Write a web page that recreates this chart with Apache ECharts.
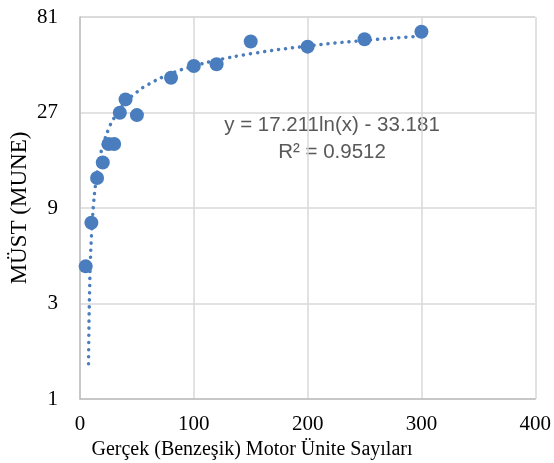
<!DOCTYPE html>
<html>
<head>
<meta charset="utf-8">
<script src="https://cdn.jsdelivr.net/npm/echarts@6/dist/echarts.min.js"></script>
<style>html,body{margin:0;padding:0;background:#fff;}#c{width:554px;height:463px;}</style>
</head>
<body>
<div id="c"></div>
<script>
var xVals = [5, 10, 15, 20, 25, 30, 35, 40, 50, 80, 100, 120, 150, 200, 250, 300];
var yVals = [4.6, 7.6, 12.7, 15.2, 18.8, 18.8, 26.9, 31.4, 26.2, 40.3, 46.1, 47.0, 61.1, 57.6, 62.7, 68.4];
var trendX = [7.5, 7.75, 8, 8.5, 9, 10, 11, 12, 13.5, 15, 17.5, 20, 25, 30, 40, 50, 60, 80, 100, 120, 150, 200, 250, 300];
var trendY = [1.50, 2.06, 2.61, 3.65, 4.64, 6.45, 8.09, 9.59, 11.62, 13.43, 16.08, 18.38, 22.22, 25.36, 30.31, 34.15, 37.29, 42.24, 46.08, 49.22, 53.06, 58.01, 61.85, 64.99];
var yTicks = [1, 3, 9, 27, 81];
var xTicks = [0, 100, 200, 300, 400];
var eqLine1 = 'y = 17.211ln(x) - 33.181';
var eqLine2 = 'R² = 0.9512';
var xName = 'Gerçek (Benzeşik) Motor Ünite Sayıları';
var yName = 'MÜST (MUNE)';

var color = '#4a7dbd';
var serif = '"Liberation Serif", "Times New Roman", serif';
var chart = echarts.init(document.getElementById('c'), null, {renderer: 'canvas'});
chart.setOption({
  animation: false,
  backgroundColor: '#ffffff',
  grid: {left: 80, right: 18, top: 17, bottom: 64},
  xAxis: {
    type: 'value', min: xTicks[0], max: xTicks[xTicks.length - 1], interval: 100,
    axisLine: {show: true, lineStyle: {color: '#bfbfbf', width: 1.5}},
    axisTick: {show: false},
    splitLine: {show: true, lineStyle: {color: '#d9d9d9', width: 1.5}},
    axisLabel: {fontFamily: serif, fontSize: 21, color: '#000', margin: 15}
  },
  yAxis: {
    type: 'log', logBase: 3, min: yTicks[0], max: yTicks[yTicks.length - 1],
    axisLine: {show: true, lineStyle: {color: '#bfbfbf', width: 1.5}},
    axisTick: {show: false},
    splitLine: {show: true, lineStyle: {color: '#d9d9d9', width: 1.5}},
    axisLabel: {fontFamily: serif, fontSize: 21, color: '#000', margin: 22,
      formatter: function (v) { return String(Math.round(v)); }}
  },
  series: [
    {
      type: 'line',
      data: trendX.map(function (x, i) { return [x, trendY[i]]; }),
      showSymbol: false, symbol: 'none', smooth: true,
      lineStyle: {color: color, width: 3.5, type: [0.1, 7], cap: 'round'},
      z: 2
    },
    {
      type: 'scatter',
      data: xVals.map(function (x, i) { return [x, yVals[i]]; }),
      symbol: 'circle', symbolSize: 14,
      itemStyle: {color: color, opacity: 1},
      z: 3
    }
  ],
  graphic: [
    {type: 'text', x: 332, y: 125, style: {text: eqLine1, fontFamily: '"Liberation Sans", Arial, sans-serif', fontSize: 20.5, fill: '#595959', textAlign: 'center', textVerticalAlign: 'middle'}},
    {type: 'text', x: 332, y: 152, style: {text: eqLine2, fontFamily: '"Liberation Sans", Arial, sans-serif', fontSize: 20.5, fill: '#595959', textAlign: 'center', textVerticalAlign: 'middle'}},
    {type: 'text', x: 252, y: 450, style: {text: xName, fontFamily: serif, fontSize: 20, fill: '#000', textAlign: 'center', textVerticalAlign: 'middle'}},
    {type: 'text', x: 20, y: 208, rotation: Math.PI / 2, style: {text: yName, fontFamily: serif, fontSize: 23, fill: '#000', textAlign: 'center', textVerticalAlign: 'middle'}}
  ]
});
</script>
</body>
</html>
